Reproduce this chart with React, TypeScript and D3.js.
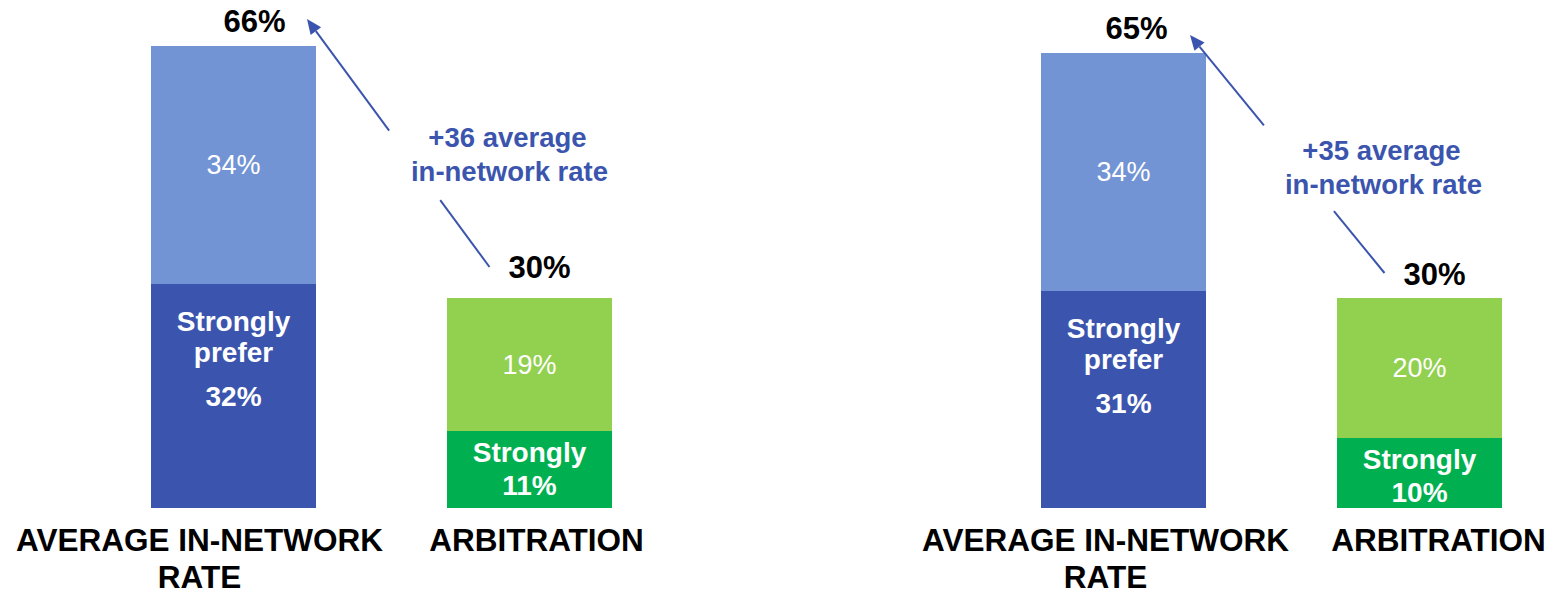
import * as d3 from 'd3';

// values
const CATEGORIES = ['AVERAGE IN-NETWORK RATE', 'ARBITRATION'];
const CATEGORY_LINES = [['AVERAGE IN-NETWORK', 'RATE'], ['ARBITRATION']];
const STRONG = [[32, 11], [31, 10]];
const SOMEWHAT = [[34, 19], [34, 20]];
const TOTALS = [[66, 30], [65, 30]];
const DIFFS = [36, 35];
const STRONG_LABELS = [['Strongly', 'prefer'], ['Strongly']];

const W = 1550;
const H = 595;
const FONT = '"Liberation Sans", Arial, sans-serif';
const BLUE_TEXT = '#3b55ae';
const COLORS = {
  strong: ['#3b55ae', '#00b050'],
  some: ['#7294d4', '#92d050'],
};

// per-panel placement (panels are separate text boxes in the original)
const LAYOUT = [
  { x0: 151, x1: 612, totalDx: [21, 10], totalDy: [14, 20], tip: [-9, -27], tail: [-40, -31], gap: [0.27, 0.55], note: [-22, -151], catDx: [-34, 7] },
  { x0: 1041, x1: 1502, totalDx: [13, 15], totalDy: [14, 13], tip: [-16, -18], tail: [-35, -25], gap: [0.26, 0.62], note: [-38, -138], catDx: [-18, 19] },
];

const y = d3.scaleLinear().domain([0, 66]).range([508, 46]);

function Panel({ p }: { p: number }) {
  const L = LAYOUT[p];
  const x = d3.scaleBand<string>().domain(CATEGORIES).range([L.x0, L.x1]).paddingInner(131 / 296).paddingOuter(0);
  const bw = x.bandwidth();
  const cx = (i: number) => (x(CATEGORIES[i]) as number) + bw / 2;

  const tip: [number, number] = [(x(CATEGORIES[0]) as number) + bw + L.tip[0], y(TOTALS[p][0]) + L.tip[1]];
  const tail: [number, number] = [cx(1) + L.tail[0], y(TOTALS[p][1]) + L.tail[1]];
  const at = (t: number): [number, number] => [tail[0] + (tip[0] - tail[0]) * t, tail[1] + (tip[1] - tail[1]) * t];
  const g0 = at(L.gap[0]);
  const g1 = at(L.gap[1]);
  const ang = Math.atan2(tip[1] - tail[1], tip[0] - tail[0]);
  const hl = 15, hw = 6.5;
  const base: [number, number] = [tip[0] - hl * Math.cos(ang), tip[1] - hl * Math.sin(ang)];
  const head = [
    tip,
    [base[0] + hw * Math.sin(ang), base[1] - hw * Math.cos(ang)],
    [base[0] - hw * Math.sin(ang), base[1] + hw * Math.cos(ang)],
  ];
  const noteX = cx(1) + L.note[0];
  const noteY = y(TOTALS[p][1]) + L.note[1];

  return (
    <g>
      {CATEGORIES.map((c, i) => {
        const strongTop = y(STRONG[p][i]);
        const top = y(STRONG[p][i] + SOMEWHAT[p][i]);
        const lines = STRONG_LABELS[i];
        return (
          <g key={c}>
            <rect x={x(c)} y={strongTop} width={bw} height={y(0) - strongTop} fill={COLORS.strong[i]} />
            <rect x={x(c)} y={top} width={bw} height={strongTop - top} fill={COLORS.some[i]} />
            <text x={cx(i)} y={(top + strongTop) / 2} dy="0.35em" textAnchor="middle" fill="#fff" fontSize={27} fontFamily={FONT}>
              {SOMEWHAT[p][i]}%
            </text>
            {i === 0 ? (
              <g fill="#fff" fontWeight="bold" fontSize={28} fontFamily={FONT} textAnchor="middle">
                <text x={cx(i)} y={strongTop + 47}>{lines[0]}</text>
                <text x={cx(i)} y={strongTop + 78}>{lines[1]}</text>
                <text x={cx(i)} y={strongTop + 122}>{STRONG[p][i]}%</text>
              </g>
            ) : (
              <g fill="#fff" fontWeight="bold" fontSize={28} fontFamily={FONT} textAnchor="middle">
                <text x={cx(i)} y={strongTop + 31}>{lines[0]}</text>
                <text x={cx(i)} y={strongTop + 64}>{STRONG[p][i]}%</text>
              </g>
            )}
            <text x={cx(i) + L.totalDx[i]} y={y(TOTALS[p][i]) - L.totalDy[i]} textAnchor="middle" fontWeight="bold" fontSize={31} fontFamily={FONT} fill="#000">
              {TOTALS[p][i]}%
            </text>
            {CATEGORY_LINES[i].map((t, k) => (
              <text key={t} x={cx(i) + L.catDx[i]} y={551 + k * 37} textAnchor="middle" fontWeight="bold" fontSize={31.5} fontFamily={FONT} fill="#000">
                {t}
              </text>
            ))}
          </g>
        );
      })}
      <line x1={tail[0]} y1={tail[1]} x2={g0[0]} y2={g0[1]} stroke={BLUE_TEXT} strokeWidth={2} />
      <line x1={g1[0]} y1={g1[1]} x2={base[0]} y2={base[1]} stroke={BLUE_TEXT} strokeWidth={2} />
      <polygon points={head.map((d) => d.join(',')).join(' ')} fill={BLUE_TEXT} />
      <g fill={BLUE_TEXT} fontWeight="bold" fontSize={27.5} fontFamily={FONT} textAnchor="middle">
        <text x={noteX} y={noteY}>+{DIFFS[p]} average</text>
        <text x={noteX + 2} y={noteY + 34}>in-network rate</text>
      </g>
    </g>
  );
}

export default function App() {
  return (
    <div style={{ position: 'absolute', left: 0, top: 0 }}>
      <svg width={W} height={H} style={{ display: 'block', background: '#fff' }}>
        <Panel p={0} />
        <Panel p={1} />
      </svg>
    </div>
  );
}
